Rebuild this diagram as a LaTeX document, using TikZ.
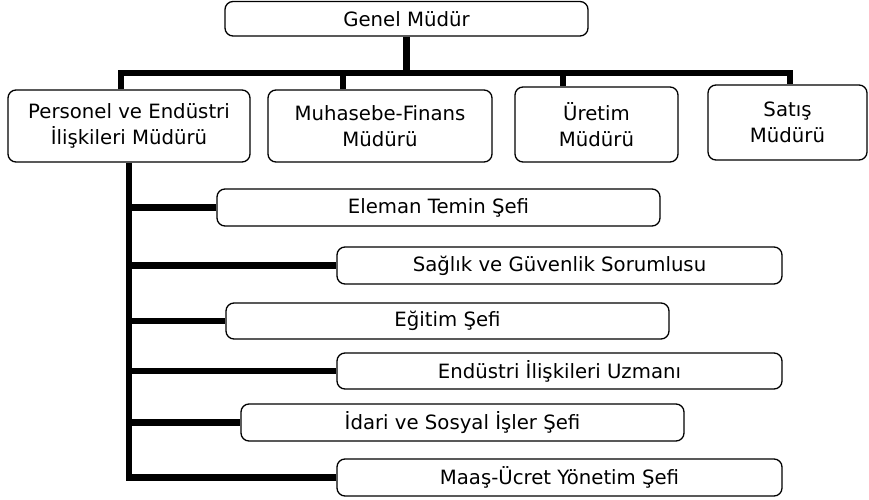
\documentclass[tikz,border=0pt]{standalone}
\usepackage{fontspec}
\setmainfont{DejaVu Sans}
\newlength{\du}
\setlength{\du}{1pt}

\begin{document}
\begin{tikzpicture}[
  unit/.style={draw, rounded corners=8\du, line width=1.3\du, inner sep=0pt,
    align=center, font=\fontsize{19.7}{26}\selectfont},
  bar/.style={line width=6.5\du, line cap=butt, line join=miter}]
\pgftransformxscale{1.000000}
\pgftransformyscale{-1.000000}
\useasboundingbox (0\du,0\du) rectangle (869\du,500\du);
% top level
\node[unit, minimum width=363\du, minimum height=34.5\du] (gm) at (406.5\du,18.75\du){Genel Müdür};
% managers
\node[unit, minimum width=242\du, minimum height=72\du] (pm) at (129\du,126\du){Personel ve Endüstri\\İlişkileri Müdürü};
\node[unit, minimum width=224\du, minimum height=72\du] (mf) at (380\du,126\du){Muhasebe-Finans\\Müdürü};
\node[unit, minimum width=163\du, minimum height=75\du] (ur) at (596.5\du,124.5\du){Üretim\\Müdürü};
\node[unit, minimum width=159\du, minimum height=75\du] (sm) at (787.5\du,122.5\du){Satış\\Müdürü};
% under Personel
\node[unit, minimum width=443\du, minimum height=37\du] (et) at (438.5\du,207.5\du){Eleman Temin Şefi};
\node[unit, minimum width=445\du, minimum height=37\du] (sg) at (559.5\du,265.5\du){Sağlık ve Güvenlik Sorumlusu};
\node[unit, minimum width=443\du, minimum height=36\du] (eg) at (447.5\du,321\du){Eğitim Şefi};
\node[unit, minimum width=445\du, minimum height=36\du] (ei) at (559.5\du,371\du){Endüstri İlişkileri Uzmanı};
\node[unit, minimum width=443\du, minimum height=37\du] (id) at (462.5\du,422.5\du){İdari ve Sosyal İşler Şefi};
\node[unit, minimum width=445\du, minimum height=37\du] (mu) at (559.5\du,477.5\du){Maaş-Ücret Yönetim Şefi};
% bus
\coordinate (b1) at (121\du,73\du);
\coordinate (b2) at (343\du,73\du);
\coordinate (b3) at (563\du,73\du);
\coordinate (b4) at (790\du,73\du);
\draw[bar] (gm.south) -- (gm.south |- b1);
\draw[bar] (b1 |- pm.north) -- (b1) -- (b4) -- (b4 |- sm.north);
\draw[bar] (b2) -- (b2 |- mf.north);
\draw[bar] (b3) -- (b3 |- ur.north);
% spine
\draw[bar] (pm.south) -- (pm.south |- mu.west) -- (mu.west);
\draw[bar] (pm.south |- et.west) -- (et.west);
\draw[bar] (pm.south |- sg.west) -- (sg.west);
\draw[bar] (pm.south |- eg.west) -- (eg.west);
\draw[bar] (pm.south |- ei.west) -- (ei.west);
\draw[bar] (pm.south |- id.west) -- (id.west);
\end{tikzpicture}
\end{document}
